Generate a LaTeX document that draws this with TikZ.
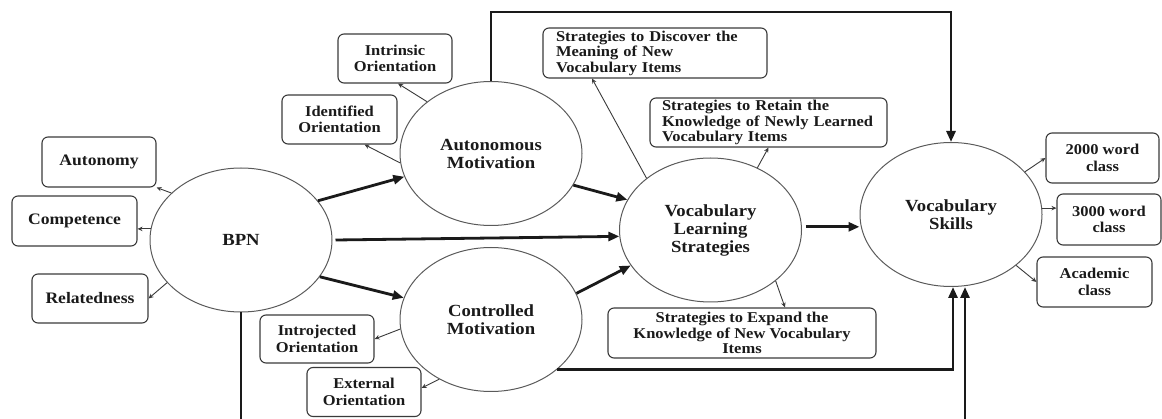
\documentclass[tikz,border=0pt]{standalone}
\usepackage{fontspec}
\setmainfont{Liberation Serif}[FakeStretch=1.1]
\usetikzlibrary{arrows.meta,shapes.geometric,calc}
\definecolor{ink}{HTML}{1A1A1A}
\definecolor{ell}{HTML}{5A5A5A}
\definecolor{boxc}{HTML}{3A3A3A}
\tikzset{
  oval/.style={ellipse, draw=ell, line width=1pt, minimum width=182pt, minimum height=144pt,
    inner sep=0pt, align=center, text=ink, font=\fontsize{17}{18}\selectfont\bfseries},
  lbl/.style={rectangle, rounded corners=6pt, draw=boxc, line width=1.1pt, inner sep=0pt,
    align=center, text=ink, font=\fontsize{15}{16.5}\selectfont\bfseries},
  lblbig/.style={lbl, font=\fontsize{16}{17}\selectfont\bfseries},
  strat/.style={lbl, font=\fontsize{15}{15.5}\selectfont\bfseries},
  thinarrow/.style={draw=boxc, line width=0.9pt, -{Stealth[length=5pt,width=4.5pt]}},
  bigarrow/.style={draw=ink, line width=2.8pt, -{Triangle[length=11pt,width=9pt]}}
}
\begin{document}
\begin{tikzpicture}[x=1pt,y=-1pt]
\useasboundingbox (0,0) rectangle (1162,419);
% ellipses
\node[oval] (bpn) at (241,240) {BPN};
\node[oval] (am) at (491,153.5) {Autonomous\\Motivation};
\node[oval] (cm) at (491,319.5) {Controlled\\Motivation};
\node[oval] (vls) at (710.5,230) {Vocabulary\\Learning\\Strategies};
\node[oval] (vs) at (951,214.5) {Vocabulary\\Skills};
% left boxes
\node[lblbig, minimum width=114pt, minimum height=50pt] (aut) at (99,162) {Autonomy};
\node[lblbig, minimum width=125pt, minimum height=50pt] (comp) at (74.5,221) {Competence};
\node[lblbig, minimum width=116pt, minimum height=49pt] (rel) at (90,298.5) {Relatedness};
% orientation boxes
\node[lbl, minimum width=114pt, minimum height=49pt] (intr) at (395,58.5) {Intrinsic\\Orientation};
\node[lbl, minimum width=115pt, minimum height=49pt] (iden) at (339.5,119.5) {Identified\\Orientation};
\node[lbl, minimum width=114pt, minimum height=48pt] (intro) at (317,339) {Introjected\\Orientation};
\node[lbl, minimum width=114pt, minimum height=49pt] (ext) at (364,392) {External\\Orientation};
% strategy boxes
\node[strat, text width=198pt, inner xsep=13pt, align=left, minimum height=50pt] (disc) at (655,53)
  {Strategies to Discover the\\Meaning of New\\Vocabulary Items};
\node[strat, text width=227pt, inner xsep=5pt, align=left, minimum height=49pt] (ret) at (768.5,122.5)
  {\hspace*{7pt}Strategies to Retain the\\\hspace*{7pt}Knowledge of Newly Learned\\\hspace*{7pt}Vocabulary Items};
\node[strat, minimum width=268pt, minimum height=50pt] (exp) at (742,333)
  {Strategies to Expand the\\Knowledge of New Vocabulary\\Items};
% class boxes
\node[lbl, minimum width=113pt, minimum height=50pt] (c2000) at (1102.5,158) {2000 word\\class};
\node[lbl, minimum width=104pt, minimum height=51pt] (c3000) at (1109,219.5) {3000 word\\class};
\node[lbl, minimum width=115pt, minimum height=50pt] (acad) at (1094.5,282) {Academic\\class};
% thin arrows
\draw[thinarrow] (bpn.146.5) -- (aut.south east);
\draw[thinarrow] (bpn.173) -- (bpn.173 -| comp.east);
\draw[thinarrow] (bpn.210.6) -- (rel.east);
\draw[thinarrow] (am.141) -- ([xshift=3pt]intr.south);
\draw[thinarrow] (am.186) -- ([xshift=25pt]iden.south);
\draw[thinarrow] (cm.186.6) -- (intro.east);
\draw[thinarrow] (cm.229.9) -- ([yshift=4pt]ext.east);
\draw[thinarrow] (vls.141) -- ([xshift=-63pt]disc.south);
\draw[thinarrow] (vls.53) -- (ret.south);
\draw[thinarrow] (vls.-38.6) -- ([xshift=43pt]exp.north);
\draw[thinarrow] (vs.30.4) -- (c2000.west);
\draw[thinarrow] (vs.4) -- (vs.4 -| c3000.west);
\draw[thinarrow] (vs.-38.5) -- (acad.west);
% thick arrows
\draw[bigarrow] (bpn.27.8) -- (am.195);
\draw[bigarrow] (bpn.-25.7) -- (cm.166.7);
\draw[bigarrow] ([xshift=3pt]bpn.east) -- (vls.184);
\draw[bigarrow] (am.-21.7) -- (vls.160.7);
\draw[bigarrow] (cm.17.1) -- (vls.204.7);
\draw[bigarrow] ([xshift=4pt]vls.2) -- (vls.2 -| vs.west);
\draw[bigarrow] (am.north) -- ++(0,-69) -| (vs.north);
\draw[bigarrow] (cm.-37.7) -| ([xshift=2pt]vs.south);
\begin{scope}
\clip (0,0) rectangle (1162,419);
\draw[bigarrow] (bpn.south) -- ++(0,150) -| ([xshift=14pt]vs.south);
\end{scope}
\end{tikzpicture}
\end{document}
